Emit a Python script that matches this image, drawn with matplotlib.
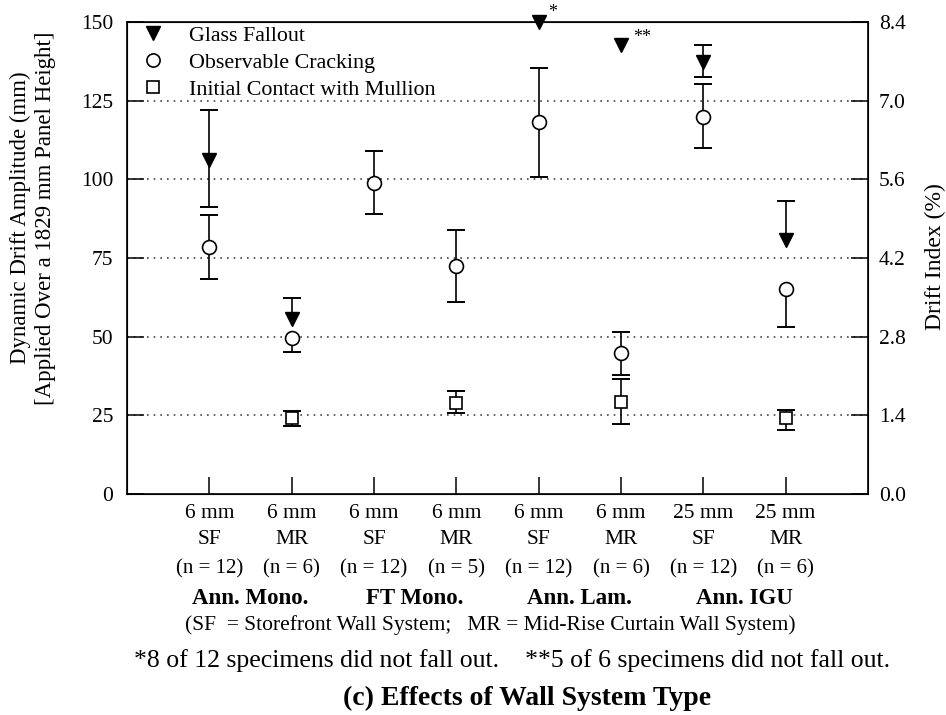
import numpy as np
import matplotlib

matplotlib.use("Agg")
import matplotlib.pyplot as plt
import matplotlib.transforms as mtransforms
from matplotlib.lines import Line2D

nan = np.nan

# specimen categories (one column per glass/wall system combination)
thickness = ["6 mm", "6 mm", "6 mm", "6 mm", "6 mm", "6 mm", "25 mm", "25 mm"]
systems = ["SF", "MR", "SF", "MR", "SF", "MR", "SF", "MR"]
n_specimens = [12, 6, 12, 5, 12, 6, 12, 6]
glass_types = ["Ann. Mono.", "FT Mono.", "Ann. Lam.", "Ann. IGU"]

# drift amplitudes (mm): mean, lower / upper error bar ends (nan = not drawn)
fallout_mean = [106, 55.6, nan, nan, 150, 142.7, 137.4, 80.6]
fallout_lo = [91.2, nan, nan, nan, nan, nan, 132.5, nan]
fallout_hi = [122, 62.2, nan, nan, nan, nan, 142.7, 93.1]

cracking_mean = [78.4, 49.6, 98.9, 72.6, 118.3, 44.7, 119.8, 65.2]
cracking_lo = [68.4, 45, 89, 60.9, 100.6, 37.9, 109.8, 53.2]
cracking_hi = [88.7, nan, 109, 84, 135.3, 51.6, 130.2, nan]

contact_mean = [nan, 24, nan, 29, nan, 29.3, nan, 24]
contact_lo = [nan, 21.5, nan, 25.8, nan, 22.3, nan, 20.4]
contact_hi = [nan, 26.5, nan, 32.8, nan, 36.7, nan, 26.8]

left_ticks = [0, 25, 50, 75, 100, 125, 150]
right_ticks = [0.0, 1.4, 2.8, 4.2, 5.6, 7.0, 8.4]

FONT = "Liberation Serif"
plt.rcParams["font.family"] = FONT

W, H = 946, 715
fig = plt.figure(figsize=(W / 100, H / 100), dpi=100)
ax = fig.add_axes([127 / W, 1 - 494 / H, (868 - 127) / W, (494 - 22) / H])

x = np.arange(1, len(systems) + 1)
ax.set_xlim(0, len(systems) + 1)
ax.set_ylim(0, 150)

# dotted reference lines
for v in left_ticks[1:-1]:
    ax.axhline(v, color="#444444", lw=1.2, ls=(0, (1, 3)), zorder=0)


def draw_bars(means, lo, hi, cap=0.11):
    for xi, m, a, b in zip(x, means, lo, hi):
        if np.isnan(m):
            continue
        for end in (a, b):
            if np.isnan(end):
                continue
            ax.vlines(xi, min(m, end), max(m, end), color="black", lw=1.2, zorder=2)
            ax.hlines(end, xi - cap, xi + cap, color="black", lw=1.4, zorder=2)


draw_bars(fallout_mean, fallout_lo, fallout_hi)
draw_bars(cracking_mean, cracking_lo, cracking_hi)
draw_bars(contact_mean, contact_lo, contact_hi)

ax.plot(x, fallout_mean, ls="none", marker="v", ms=10.5, color="black", zorder=4, clip_on=False)
ax.plot(x, cracking_mean, ls="none", marker="o", ms=10, mfc="white", mec="black",
        mew=1.2, zorder=4)
ax.plot(x, contact_mean, ls="none", marker="s", ms=8.5, mfc="white", mec="black",
        mew=1.2, zorder=4)

# notes on the fallout points that not all specimens failed
ax.annotate("*", (x[4], fallout_mean[4]), xytext=(7, 1), textcoords="offset points",
            fontsize=13, ha="left", va="bottom", annotation_clip=False)
ax.annotate("**", (x[5], fallout_mean[5]), xytext=(9, -1), textcoords="offset points",
            fontsize=13, ha="left", va="bottom", annotation_clip=False)

ax.set_yticks(left_ticks)
ax.set_yticklabels([str(t) for t in left_ticks])
ax.set_xticks(x)
ax.set_xticklabels([])
ax.tick_params(axis="y", direction="in", length=12, width=1.1, labelsize=15.5, pad=10)
ax.tick_params(axis="x", direction="in", length=12, width=1.1)
for s in ax.spines.values():
    s.set_linewidth(1.2)

ax2 = ax.twinx()
ax2.set_ylim(0, 8.4)
ax2.set_yticks(right_ticks)
ax2.set_yticklabels([f"{t:.1f}" for t in right_ticks])
ax2.tick_params(axis="y", direction="in", length=12, width=1.1, labelsize=15.5, pad=8)
fig.text(935 / W, 1 - 257 / H, "Drift Index (%)", rotation=90, ha="center", va="center",
         fontsize=17)

handles = [
    Line2D([0], [0], ls="none", marker="v", ms=10, color="black"),
    Line2D([0], [0], ls="none", marker="o", ms=9.5, mfc="white", mec="black", mew=1.2),
    Line2D([0], [0], ls="none", marker="s", ms=8, mfc="white", mec="black", mew=1.2),
]
ax.legend(handles, ["Glass Fallout", "Observable Cracking", "Initial Contact with Mullion"],
          loc="upper left", bbox_to_anchor=(0.0095, 1.0085), frameon=False, fontsize=15.8,
          handlelength=1.0, handletextpad=1.14, labelspacing=0.3, borderaxespad=0.15,
          borderpad=0.2)

fig.text(33 / W, 1 - 218 / H,
         "Dynamic Drift Amplitude (mm)\n[Applied Over a 1829 mm Panel Height]",
         rotation=90, ha="center", va="center", fontsize=16.5, linespacing=1.2)

# category labels beneath each column
tr = mtransforms.blended_transform_factory(ax.transData, fig.transFigure)
for xi, t, s, n in zip(x, thickness, systems, n_specimens):
    ax.text(xi, 1 - 514 / H, t, transform=tr, ha="center", va="center", fontsize=15.5)
    ax.text(xi, 1 - 539 / H, s, transform=tr, ha="center", va="center", fontsize=15.5)
    ax.text(xi, 1 - 569 / H, f"(n = {n})", transform=tr, ha="center", va="center",
            fontsize=15)
for i, g in enumerate(glass_types):
    ax.text(x[2 * i] + 0.5, 1 - 598 / H, g, transform=tr, ha="center", va="center",
            fontsize=16.5, fontweight="bold")

fig.text(490 / W, 1 - 625 / H,
         "(SF  = Storefront Wall System;   MR = Mid-Rise Curtain Wall System)",
         ha="center", va="center", fontsize=15.5)
fig.text(512 / W, 1 - 661 / H,
         "*8 of 12 specimens did not fall out.    **5 of 6 specimens did not fall out.",
         ha="center", va="center", fontsize=18.5)
fig.text(527 / W, 1 - 698 / H, "(c) Effects of Wall System Type",
         ha="center", va="center", fontsize=20, fontweight="bold")

fig.savefig("out.png", dpi=100)
